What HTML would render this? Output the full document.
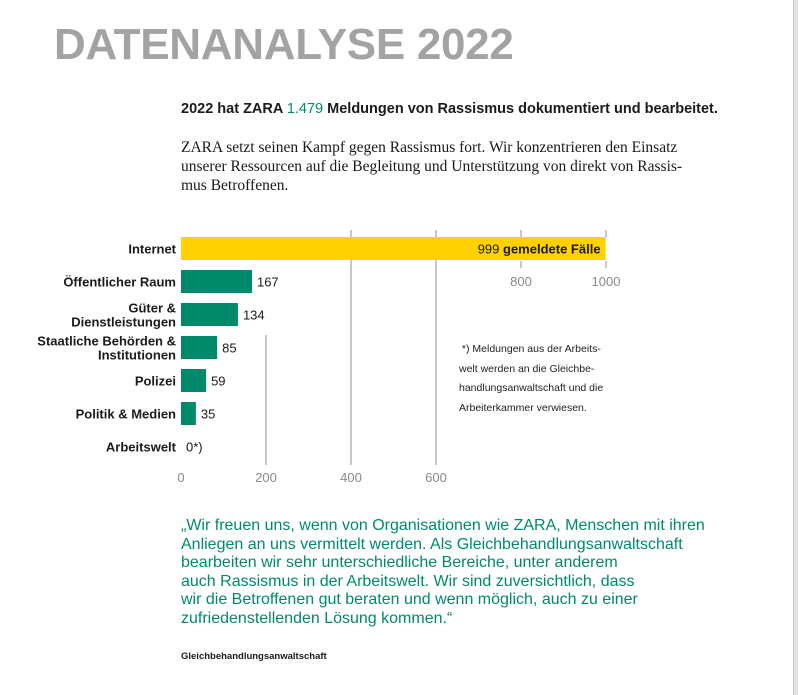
<!DOCTYPE html>
<html><head><meta charset="utf-8">
<style>
html,body{margin:0;padding:0;background:#fff;}
body{width:798px;height:695px;position:relative;overflow:hidden;font-family:"Liberation Sans",sans-serif;color:#1a1a1a;}
.abs{position:absolute;}
#title{left:54px;top:20px;font-size:44px;font-weight:bold;color:#a3a3a3;letter-spacing:-0.3px;white-space:nowrap;}
#lead{left:181px;top:101px;font-size:14.5px;font-weight:bold;white-space:nowrap;}
#lead span{color:#008a6c;font-weight:normal;}
#intro{left:181px;top:138px;width:540px;font-family:"Liberation Serif",serif;font-size:15.5px;line-height:19px;}
#note{left:459px;top:340px;width:180px;font-size:10.5px;line-height:19.5px;color:#222;}
#quote{left:181px;top:517px;width:580px;font-size:16px;line-height:18.5px;color:#008a6c;}
#src{left:181px;top:651px;font-size:9.5px;font-weight:bold;}
#edge{left:793px;top:0;width:5px;height:695px;background:#e4e4e4;border-left:1px solid #c8c8c8;}
</style></head>
<body>
<div id="title" class="abs">DATENANALYSE 2022</div>
<div id="lead" class="abs">2022 hat ZARA <span>1.479</span> Meldungen von Rassismus dokumentiert und bearbeitet.</div>
<div id="intro" class="abs">ZARA setzt seinen Kampf gegen Rassismus fort. Wir konzentrieren den Einsatz unserer Ressourcen auf die Begleitung und Unterstützung von direkt von Rassis-<br>mus Betroffenen.</div>
<svg class="abs" style="left:0;top:0" width="798" height="695" id="chart"></svg>
<div id="note" class="abs">&nbsp;*) Meldungen aus der Arbeits-<br>welt werden an die Gleichbe-<br>handlungsanwaltschaft und die<br>Arbeiterkammer verwiesen.</div>
<div id="quote" class="abs">„Wir freuen uns, wenn von Organisationen wie ZARA, Menschen mit ihren<br>Anliegen an uns vermittelt werden. Als Gleichbehandlungsanwaltschaft<br>bearbeiten wir sehr unterschiedliche Bereiche, unter anderem<br>auch Rassismus in der Arbeitswelt. Wir sind zuversichtlich, dass<br>wir die Betroffenen gut beraten und wenn möglich, auch zu einer<br>zufriedenstellenden Lösung kommen.“</div>
<div id="src" class="abs">Gleichbehandlungsanwaltschaft</div>
<div id="edge" class="abs"></div>
<script>
const categories=[["Internet"],["Öffentlicher Raum"],["Güter &","Dienstleistungen"],["Staatliche Behörden &","Institutionen"],["Polizei"],["Politik & Medien"],["Arbeitswelt"]];
const values=[999,167,134,85,59,35,0];
const valueLabels=["999","167","134","85","59","35","0*)"];
const ticks=[0,200,400,600,800,1000];
const NS="http://www.w3.org/2000/svg";
const svg=document.getElementById('chart');
const x0=181,x1=606,vmax=1000;
const x=v=>x0+(x1-x0)*v/vmax;
const rowTop=237,pitch=33,barH=23;
const y=i=>rowTop+i*pitch;
function mk(t,a){const e=document.createElementNS(NS,t);for(const k in a)e.setAttribute(k,a[k]);svg.appendChild(e);return e;}
ticks.forEach(t=>{
  if(t===0)return;
  const gx=x(t);
  if(t>=800){
    const g1=mk('line',{x1:gx,x2:gx,y1:230,y2:237,stroke:'#b5b5b5','stroke-width':1.5});
    
    
    const g2=mk('line',{x1:gx,x2:gx,y1:261,y2:268,stroke:'#b5b5b5','stroke-width':1.5});
    
    
    const tl=mk('text',{x:gx,y:286,'text-anchor':'middle','font-size':13,fill:'#8a8a8a'});
    tl.textContent=t;
    
    
  } else {
    const top=t===200?335:230;
    const g=mk('line',{x1:gx,x2:gx,y1:top,y2:465,stroke:'#b5b5b5','stroke-width':1.5});
    
    
  }
});
ticks.forEach(t=>{
  if(t>=800)return;
  const tl=mk('text',{x:x(t),y:482,'text-anchor':'middle','font-size':13,fill:'#8a8a8a'});
  tl.textContent=t;
  
  
});
values.forEach((v,i)=>{
  const by=y(i);
  if(v>0){
    const r=mk('rect',{x:x0,y:by,width:x(v)-x0,height:barH,fill:i===0?'#ffd100':'#008a6c'});
    
    
  }
  const lines=categories[i];
  lines.forEach((ln,j)=>{
    const cy=by+barH/2+5+(lines.length===2?(j===0?-7:7):0);
    const t=mk('text',{x:176,y:cy,'text-anchor':'end','font-size':13,'font-weight':'bold',fill:'#1a1a1a'});
    t.textContent=ln;
    
    
  });
  let vl;
  if(i===0){
    vl=mk('text',{x:x(v)-5,y:by+barH/2+5,'text-anchor':'end','font-size':13,fill:'#1a1a1a'});
    vl.innerHTML=valueLabels[i]+' <tspan font-weight="bold">gemeldete Fälle</tspan>';
  } else {
    vl=mk('text',{x:x(v)+5,y:by+barH/2+5,'font-size':13,fill:'#1a1a1a'});
    vl.textContent=valueLabels[i];
  }
  
  
});
</script>
</body></html>
